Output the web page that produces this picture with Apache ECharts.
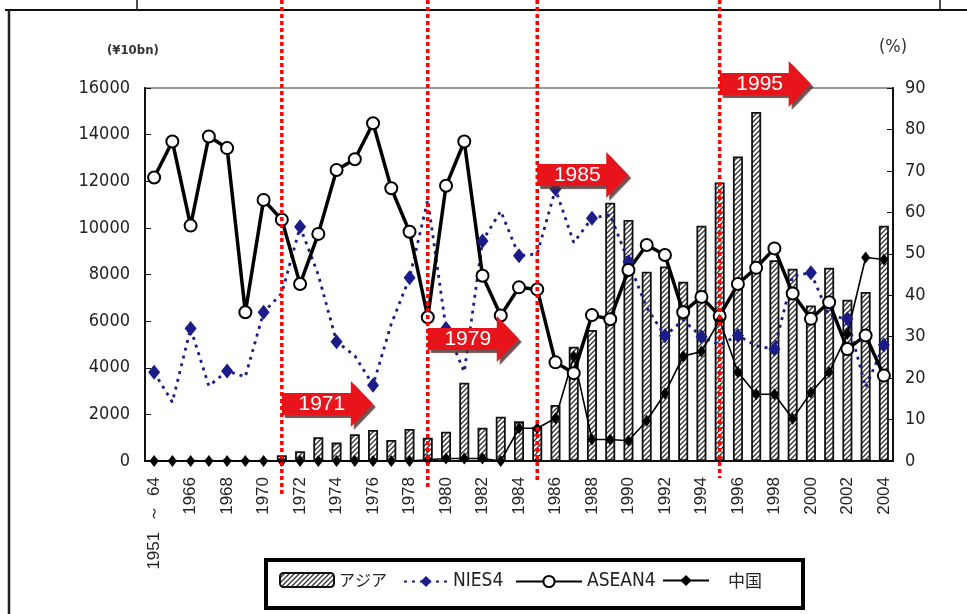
<!DOCTYPE html>
<html><head><meta charset="utf-8">
<script src="https://cdn.jsdelivr.net/npm/echarts@6/dist/echarts.min.js"></script>
<style>html,body{margin:0;padding:0;background:#fff}#c{width:967px;height:614px}</style>
</head><body><div id="c"></div>
<script>
// ---------- data ----------
const categories = ['1951  ～  64','1965','1966','1967','1968','1969','1970','1971','1972','1973','1974','1975','1976','1977','1978','1979','1980','1981','1982','1983','1984','1985','1986','1987','1988','1989','1990','1991','1992','1993','1994','1995','1996','1997','1998','1999','2000','2001','2002','2003','2004'];
// アジア (¥10bn, left axis)
const asia = [40,40,40,40,50,50,60,250,420,1020,790,1150,1330,900,1370,1000,1260,3360,1430,1900,1700,1470,2400,4900,5620,11080,10340,8120,8340,7690,10090,11950,13060,14970,8610,8250,6670,8290,6920,7250,10090];
// NIES4 (%, right axis)
const nies4 = [21.4,14.2,32.0,18.1,21.7,20.3,35.9,40.5,56.5,44.9,28.8,25.4,18.3,33.1,44.2,63.0,32.0,21.5,53.1,60.3,49.5,50.0,65.6,52.7,58.6,59.4,48.1,37.0,30.2,34.0,30.0,28.0,30.3,27.8,27.0,44.6,45.4,35.1,34.3,17.8,28.0];
// ASEAN4 (%, right axis)
const asean4 = [68.4,77.1,56.8,78.3,75.5,35.9,63.0,58.2,42.7,54.8,70.2,72.8,81.5,65.8,55.3,34.7,66.4,77.1,44.7,35.1,41.9,41.4,23.8,21.2,35.2,34.2,46.1,52.1,49.7,35.9,39.6,35.0,42.7,46.6,51.3,40.4,34.3,38.3,27.0,30.3,20.6];
// 中国 (%, right axis)
const china = [0,0,0,0,0,0,0,0,0,0,0,0,0,0,0,0.3,0.6,0.6,0.6,0,7.9,7.9,10.3,25.2,5.2,5.2,4.9,9.7,16.3,25.3,26.4,34.0,21.4,16.1,16.1,10.2,16.5,21.4,30.7,49.1,48.6];
// axis settings
const leftMin = 0, leftMax = 16000, leftStep = 2000;
const rightMin = 0, rightMax = 90, rightStep = 10;
// annotation events (year, arrow level in ¥10bn, dotted line bottom in px)
const eventYears = ['1971','1979','1985','1995'];
const eventLevels = [2450, 5230, 12270, 16170];
const eventLineEnds = [495, 490, 483, 478];

// ---------- styles ----------
const NARROW = "'DejaVu Sans Condensed','Liberation Sans Narrow',sans-serif";
function hatchPattern(){
  const c = document.createElement('canvas'); c.width = 5; c.height = 5;
  const g = c.getContext('2d');
  g.fillStyle = '#fff'; g.fillRect(0,0,5,5);
  g.strokeStyle = '#333'; g.lineWidth = 1.3;
  g.beginPath();
  g.moveTo(0,5); g.lineTo(5,0);
  g.moveTo(-1,1); g.lineTo(1,-1);
  g.moveTo(4,6); g.lineTo(6,4);
  g.stroke();
  return c;
}
const hatch = {image: hatchPattern(), repeat: 'repeat'};

const chart = echarts.init(document.getElementById('c'), null, {renderer: 'canvas'});
const legendBase = {orient:'horizontal', top: 572, padding: 0, itemHeight: 14, selectedMode: false,
  textStyle: {fontSize: 19, color: '#222', fontFamily: NARROW}};

chart.setOption({
  animation: false,
  backgroundColor: '#fff',
  grid: {left: 145, right: 74, top: 88, bottom: 153, show: true, borderColor: '#999', borderWidth: 2, backgroundColor: 'transparent'},
  xAxis: {
    type: 'category', data: categories, boundaryGap: true,
    axisLine: {lineStyle: {color: '#111', width: 2}},
    axisTick: {inside: true, length: 4, interval: 0, lineStyle: {color: '#aaa'}},
    axisLabel: {interval: 1, rotate: 90, fontSize: 17, color: '#222', margin: 16, fontFamily: "'Liberation Sans',sans-serif"}
  },
  yAxis: [
    {type: 'value', min: leftMin, max: leftMax, interval: leftStep, position: 'left',
     axisLine: {show: true, lineStyle: {color: '#111', width: 2}},
     axisTick: {show: true, inside: true, length: 6, lineStyle: {color: '#111'}},
     splitLine: {show: false},
     axisLabel: {fontSize: 18, color: '#222', margin: 15, fontFamily: NARROW, formatter: v => String(v)}},
    {type: 'value', min: rightMin, max: rightMax, interval: rightStep, position: 'right',
     axisLine: {show: true, lineStyle: {color: '#111', width: 2}},
     axisTick: {show: true, inside: true, length: 6, lineStyle: {color: '#111'}},
     splitLine: {show: false},
     axisLabel: {fontSize: 18, color: '#222', margin: 12, fontFamily: NARROW, formatter: v => String(v)}}
  ],
  legend: [
    Object.assign({}, legendBase, {left: 279, itemWidth: 54, data: [{name: 'アジア', textStyle: {fontSize: 16, fontFamily: "'Noto Sans CJK JP',sans-serif"}}]}),
    Object.assign({}, legendBase, {left: 403, itemWidth: 44, data: ['NIES4']}),
    Object.assign({}, legendBase, {left: 515, itemWidth: 66, data: ['ASEAN4']}),
    Object.assign({}, legendBase, {left: 662, itemWidth: 46, data: [{name: '中国', textStyle: {fontSize: 17, padding: [0,0,0,14], fontFamily: "'Noto Sans CJK JP',sans-serif"}}]})
  ],
  series: [
    {name: 'アジア', type: 'bar', yAxisIndex: 0, data: asia, barWidth: 10,
     itemStyle: {color: hatch, borderColor: '#111', borderWidth: 1.8}},
    {name: 'NIES4', type: 'line', yAxisIndex: 1, data: nies4, symbol: 'diamond', symbolSize: [12, 15],
     lineStyle: {color: '#1b1b8a', width: 2.8, type: [3, 5]}, itemStyle: {color: '#1b1b8a'}},
    {name: 'ASEAN4', type: 'line', yAxisIndex: 1, data: asean4, symbol: 'circle', symbolSize: 12,
     lineStyle: {color: '#000', width: 3.5}, itemStyle: {color: '#fff', borderColor: '#000', borderWidth: 2}},
    {name: '中国', type: 'line', yAxisIndex: 1, data: china, symbol: 'diamond', symbolSize: [9, 12],
     lineStyle: {color: '#000', width: 1.6}, itemStyle: {color: '#000'}}
  ]
});

// ---------- annotations ----------
const graphics = [
  {type: 'line', shape: {x1: 5, y1: 10, x2: 967, y2: 10}, style: {stroke: '#111', lineWidth: 2}},
  {type: 'line', shape: {x1: 137, y1: 0, x2: 137, y2: 10}, style: {stroke: '#111', lineWidth: 1.5}},
  {type: 'line', shape: {x1: 940, y1: 0, x2: 940, y2: 10}, style: {stroke: '#111', lineWidth: 1.5}},
  {type: 'line', shape: {x1: 9, y1: 10, x2: 9, y2: 614}, style: {stroke: '#222', lineWidth: 2.5}},
  {type: 'text', left: 107, top: 44, style: {text: '(¥10bn)', fontSize: 13, fontWeight: 'bold', fill: '#333', fontFamily: NARROW}},
  {type: 'text', left: 879, top: 38, style: {text: '(%)', fontSize: 18, fill: '#333', fontFamily: NARROW}},
  {type: 'rect', shape: {x: 266, y: 560, width: 537, height: 48}, style: {fill: 'none', stroke: '#000', lineWidth: 4}}
];
eventYears.forEach((yr, i) => {
  const x = chart.convertToPixel({xAxisIndex: 0}, yr);
  const yc = chart.convertToPixel({yAxisIndex: 0}, eventLevels[i]);
  graphics.push({type: 'polygon', z: 10,
    shape: {points: [[x, yc-11],[x+69, yc-11],[x+69, yc-23],[x+91, yc],[x+69, yc+23],[x+69, yc+11],[x, yc+11]]},
    style: {fill: '#e8141c', shadowColor: 'rgba(90,50,50,0.85)', shadowOffsetX: 3, shadowOffsetY: 3, shadowBlur: 1}});
  graphics.push({type: 'text', z: 11, x: x + 40, y: yc,
    style: {text: yr, fontSize: 21, fill: '#fff', align: 'center', verticalAlign: 'middle', fontFamily: "'Liberation Sans',sans-serif"}});
  graphics.push({type: 'line', z: 12, shape: {x1: x, y1: 0, x2: x, y2: eventLineEnds[i]},
    style: {stroke: '#f00', lineWidth: 3.5, lineDash: [4, 3]}});
});
chart.setOption({graphic: graphics});
</script></body></html>
